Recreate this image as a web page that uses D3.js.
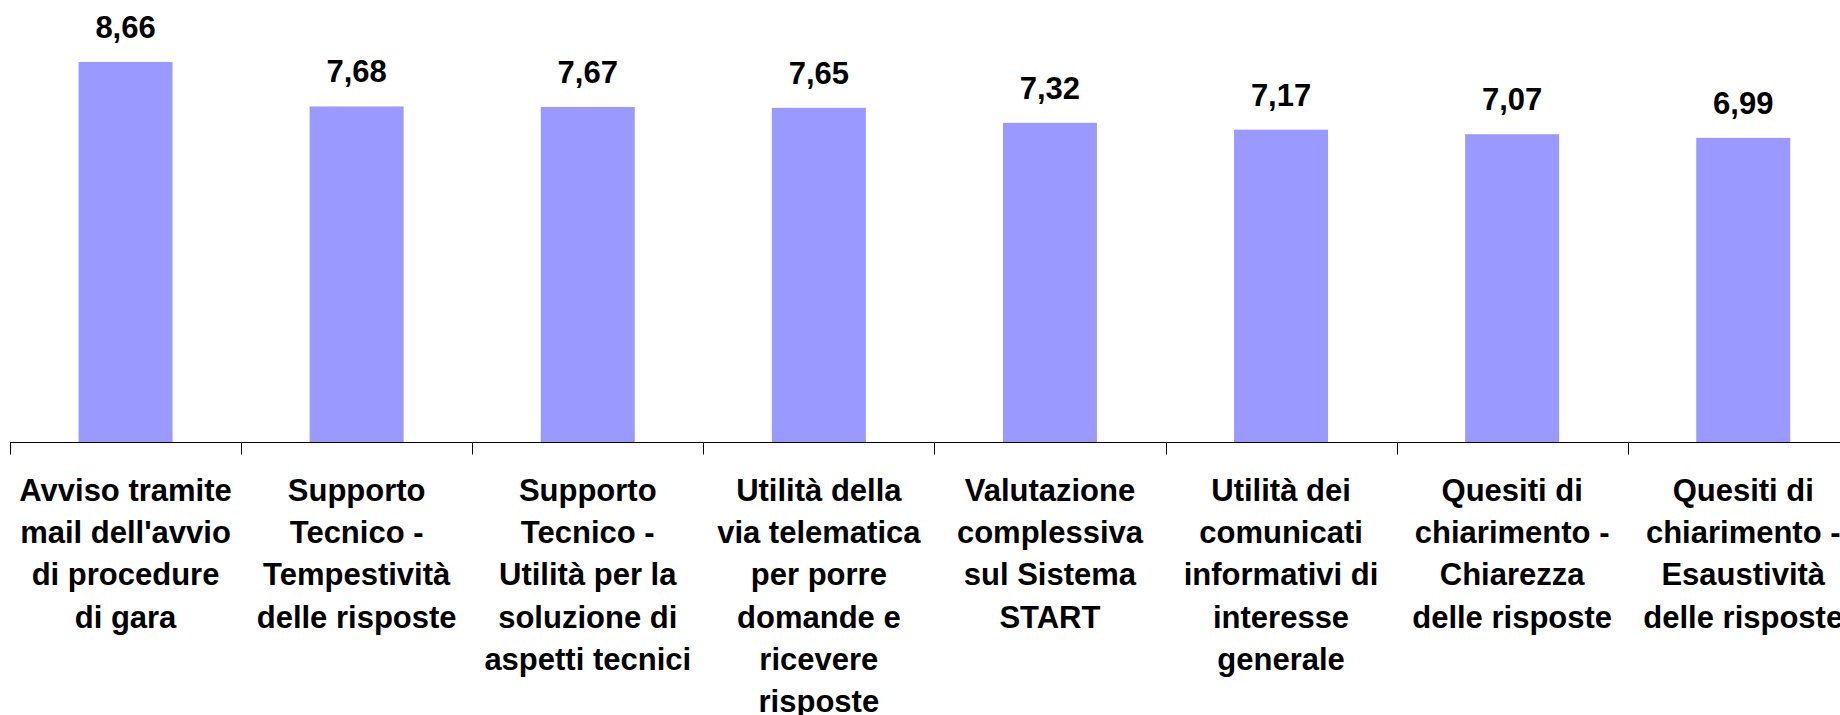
<!DOCTYPE html>
<html>
<head>
<meta charset="utf-8">
<script src="https://cdn.jsdelivr.net/npm/d3@7"></script>
<style>
  body { margin: 0; background: #fff; }
  svg { display: block; }
</style>
</head>
<body>
<script>
// categories, one line per array entry as wrapped in the original
const categories = [
  "Avviso tramite\nmail dell'avvio\ndi procedure\ndi gara",
  "Supporto\nTecnico -\nTempestività\ndelle risposte",
  "Supporto\nTecnico -\nUtilità per la\nsoluzione di\naspetti tecnici",
  "Utilità della\nvia telematica\nper porre\ndomande e\nricevere\nrisposte",
  "Valutazione\ncomplessiva\nsul Sistema\nSTART",
  "Utilità dei\ncomunicati\ninformativi di\ninteresse\ngenerale",
  "Quesiti di\nchiarimento -\nChiarezza\ndelle risposte",
  "Quesiti di\nchiarimento -\nEsaustività\ndelle risposte"
];
const values = [8.66, 7.68, 7.67, 7.65, 7.32, 7.17, 7.07, 6.99];

const width = 1840, height = 715;
const axisY = 442;

const svg = d3.select("body").append("svg")
  .attr("width", width)
  .attr("height", height)
  .attr("font-family", "'Liberation Sans', Arial, sans-serif")
  .attr("font-weight", "bold");

const x = d3.scaleBand()
  .domain(categories)
  .range([10, 10 + 8 * 231.1])
  .paddingInner(0)
  .paddingOuter(0);

const y = d3.scaleLinear()
  .domain([0.3, 10])
  .range([axisY, 1]);

const barW = 94;

svg.append("g")
  .selectAll("rect")
  .data(values)
  .join("rect")
  .attr("x", (d, i) => x(categories[i]) + x.bandwidth() / 2 - barW / 2)
  .attr("y", d => y(d))
  .attr("width", barW)
  .attr("height", d => axisY - y(d))
  .attr("fill", "#9999ff");

svg.append("g")
  .selectAll("text")
  .data(values)
  .join("text")
  .attr("x", (d, i) => x(categories[i]) + x.bandwidth() / 2)
  .attr("y", d => y(d) - 24)
  .attr("text-anchor", "middle")
  .attr("font-size", 31)
  .attr("fill", "#000")
  .text(d => d.toFixed(2).replace(".", ","));

// x axis: ticks between categories, labels drawn separately
const axisG = svg.append("g").attr("transform", `translate(0,${axisY + 0.5})`);
axisG.append("line")
  .attr("x1", 10).attr("x2", width)
  .attr("stroke", "#000").attr("stroke-width", 1);
const tickPos = categories.map(c => x(c)).concat([x.range()[1]]);
axisG.selectAll(".tick")
  .data(tickPos)
  .join("line")
  .attr("class", "tick")
  .attr("x1", d => Math.round(d) + 0.5).attr("x2", d => Math.round(d) + 0.5)
  .attr("y1", 0).attr("y2", 12)
  .attr("stroke", "#000").attr("stroke-width", 1);

const labels = svg.append("g")
  .selectAll("text")
  .data(categories)
  .join("text")
  .attr("text-anchor", "middle")
  .attr("font-size", 31)
  .attr("fill", "#000");

labels.selectAll("tspan")
  .data(d => d.split("\n").map(line => ({ line, c: d })))
  .join("tspan")
  .attr("x", d => x(d.c) + x.bandwidth() / 2)
  .attr("y", (d, i) => 501 + i * 42.2)
  .text(d => d.line);
</script>
</body>
</html>
